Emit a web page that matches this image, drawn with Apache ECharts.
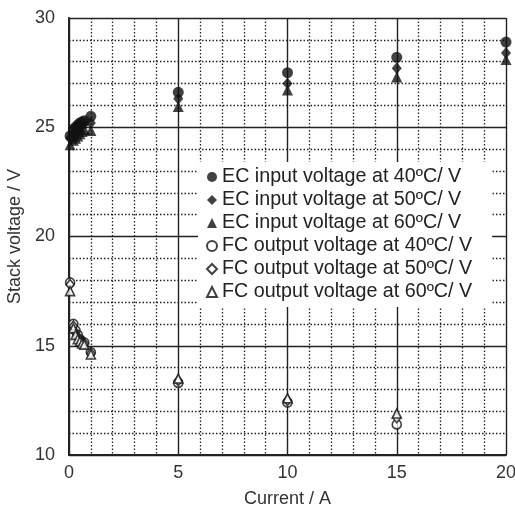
<!DOCTYPE html>
<html lang="en">
<head>
    <meta charset="UTF-8">
    <title>Stack voltage</title>
    <script src="https://cdn.jsdelivr.net/npm/echarts@6/dist/echarts.min.js"></script>
    <style>
        html, body { margin: 0; padding: 0; background: #fff; }
        #chart { width: 515px; height: 511px; }
    </style>
</head>
<body>
<div id="chart"></div>
<script>
    // currents (A)
    var ecCurrent = [0.05, 0.2, 0.3, 0.4, 0.5, 0.6, 0.7, 1, 5, 10, 15, 20];
    var fcCurrent = [0.05, 0.2, 0.3, 0.4, 0.5, 0.6, 0.7, 1, 5, 10, 15];

    // EC input voltage (V)
    var ec40 = [24.6, 24.9, 25.0, 25.1, 25.2, 25.25, 25.3, 25.5, 26.6, 27.5, 28.2, 28.9];
    var ec50 = [24.5, 24.7, 24.8, 24.9, 25.0, 25.1, 25.15, 25.2, 26.3, 27.0, 27.7, 28.4];
    var ec60 = [24.2, 24.4, 24.5, 24.6, 24.7, 24.8, 24.9, 24.85, 25.95, 26.7, 27.3, 28.1];

    // FC output voltage (V)
    var fc40 = [17.9, 16.0, 15.7, 15.5, 15.3, 15.2, 15.15, 14.7, 13.3, 12.4, 11.4];
    var fc50 = [17.8, 15.9, 15.6, 15.4, 15.25, 15.15, 15.1, 14.65, 13.4, 12.5, 11.7];
    var fc60 = [17.5, 15.8, 15.5, 15.3, 15.2, 15.1, 15.05, 14.6, 13.5, 12.6, 11.9];

    var names = [
        'EC input voltage at 40ºC/ V',
        'EC input voltage at 50ºC/ V',
        'EC input voltage at 60ºC/ V',
        'FC output voltage at 40ºC/ V',
        'FC output voltage at 50ºC/ V',
        'FC output voltage at 60ºC/ V'
    ];

    function pairs(xs, ys) {
        return ys.map(function (v, i) { return [xs[i], v]; });
    }

    var solid = { color: '#111' };
    var hollow = { color: '#fff', borderColor: '#111', borderWidth: 1.6 };

    function mk(name, xs, ys, symbol, size, style) {
        return {
            name: name,
            type: 'scatter',
            data: pairs(xs, ys),
            symbol: symbol,
            symbolSize: size,
            itemStyle: style,
            emphasis: { disabled: true }
        };
    }

    var chart = echarts.init(document.getElementById('chart'));
    var font = "'Liberation Sans', Arial, sans-serif";
    var axisFont = { fontFamily: font, fontSize: 18, color: '#333' };

    chart.setOption({
        animation: false,
        grid: { left: 69, right: 9, top: 18, bottom: 56, containLabel: false, outerBoundsMode: 'none' },
        legend: {
            orient: 'vertical',
            left: 198,
            top: 162,
            backgroundColor: '#fff',
            padding: [5, 20, 5, 8],
            itemGap: 3,
            itemWidth: 10,
            itemHeight: 10,
            textStyle: { fontFamily: font, fontSize: 19.7, color: '#222' },
            data: names
        },
        xAxis: {
            type: 'value',
            min: 0, max: 20, interval: 5,
            name: 'Current / A',
            nameLocation: 'middle',
            nameGap: 35,
            nameTextStyle: axisFont,
            axisLine: { lineStyle: { color: '#222', width: 2 } },
            axisTick: { show: false },
            axisLabel: Object.assign({ margin: 9 }, axisFont),
            splitLine: { lineStyle: { color: '#222', width: 1.4 } },
            minorTick: { show: false, splitNumber: 5 },
            minorSplitLine: { show: true, lineStyle: { color: '#222', width: 1.3, type: [1.5, 2] } }
        },
        yAxis: {
            type: 'value',
            min: 10, max: 30, interval: 5,
            name: 'Stack voltage / V',
            nameLocation: 'middle',
            nameGap: 36,
            nameTextStyle: axisFont,
            axisLine: { show: true, lineStyle: { color: '#222', width: 2 } },
            axisTick: { show: false },
            axisLabel: Object.assign({ margin: 14 }, axisFont),
            splitLine: { lineStyle: { color: '#222', width: 1.4 } },
            minorTick: { show: false, splitNumber: 5 },
            minorSplitLine: { show: true, lineStyle: { color: '#222', width: 1.3, type: [1.5, 2] } }
        },
        series: [
            mk(names[0], ecCurrent, ec40, 'circle', 11, solid),
            mk(names[1], ecCurrent, ec50, 'diamond', [10, 12], solid),
            mk(names[2], ecCurrent, ec60, 'triangle', 11, solid),
            mk(names[3], fcCurrent, fc40, 'circle', 9, hollow),
            mk(names[4], fcCurrent, fc50, 'diamond', [8, 10], hollow),
            mk(names[5], fcCurrent, fc60, 'triangle', 9, hollow)
        ]
    });
</script>
</body>
</html>
